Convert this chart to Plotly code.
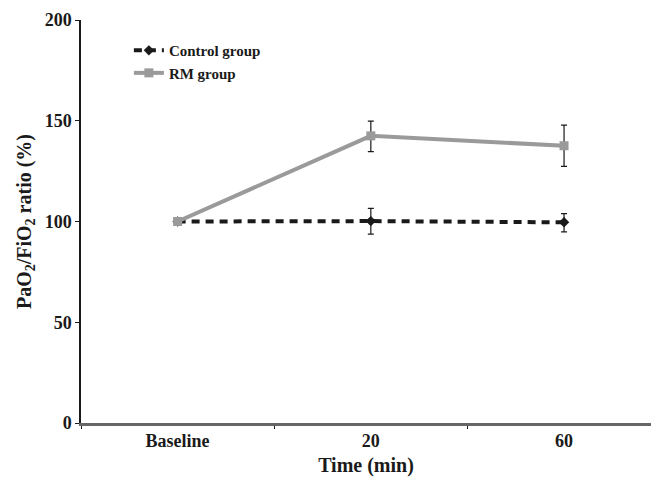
import plotly.graph_objects as go

categories = ["Baseline", "20", "60"]
control_vals = [100, 100.2, 99.6]
control_err_plus = [0, 6.3, 4.3]
control_err_minus = [0, 6.5, 4.7]
rm_vals = [100, 142.5, 137.6]
rm_err_plus = [0, 7.3, 10.2]
rm_err_minus = [0, 7.8, 10.2]
sig_labels = ["", "* †", "* †"]
y_ticks = [0, 50, 100, 150, 200]

font_fam = "Liberation Serif"

fig = go.Figure()
fig.add_trace(go.Scatter(
    x=categories, y=control_vals, mode="lines+markers", name="Control group",
    line=dict(color="#1a1a1a", width=4, dash="8px,6px"),
    marker=dict(symbol="diamond", size=8, color="#1a1a1a"),
    error_y=dict(type="data", array=control_err_plus, arrayminus=control_err_minus,
                 color="#1a1a1a", thickness=1.2, width=3),
))
fig.add_trace(go.Scatter(
    x=categories, y=rm_vals, mode="lines+markers", name="RM group",
    line=dict(color="#9a9a9a", width=4),
    marker=dict(symbol="square", size=9, color="#9a9a9a"),
    error_y=dict(type="data", array=rm_err_plus, arrayminus=rm_err_minus,
                 color="#1a1a1a", thickness=1.2, width=3),
))

for c, v, ep, s in zip(categories, rm_vals, rm_err_plus, sig_labels):
    if s:
        fig.add_annotation(x=c, y=v + ep, text=s, showarrow=False,
                           xanchor="left", yanchor="middle", xshift=5, yshift=-2,
                           font=dict(family=font_fam, size=13, color="#1a1a1a"))

fig.update_layout(
    width=651, height=478,
    margin=dict(l=81, r=0, t=20, b=55),
    paper_bgcolor="white", plot_bgcolor="white",
    font=dict(family=font_fam, color="#1a1a1a"),
    showlegend=True,
    legend=dict(x=0.084, y=0.965, xanchor="left", yanchor="top",
                bgcolor="rgba(0,0,0,0)", tracegroupgap=0,
                font=dict(family=font_fam, size=15, color="#1a1a1a", weight="bold"),
                itemwidth=30),
    xaxis=dict(
        type="category", range=[-0.5, 2.45],
        showline=True, linecolor="#666666", linewidth=2.5,
        ticks="outside", tickson="boundaries", ticklen=3, tickcolor="#1a1a1a", tickwidth=1,
        showgrid=False, zeroline=False,
        tickfont=dict(family=font_fam, size=18, color="#1a1a1a", weight="bold"),
        title=dict(text="Time (min)", standoff=8,
                   font=dict(family=font_fam, size=20, color="#1a1a1a", weight="bold")),
    ),
    yaxis=dict(
        range=[0, 200], tickvals=y_ticks,
        showline=True, linecolor="#1a1a1a", linewidth=1.5,
        ticks="outside", ticklen=4, tickcolor="#1a1a1a", tickwidth=1,
        showgrid=False, zeroline=False,
        tickfont=dict(family=font_fam, size=18, color="#1a1a1a", weight="bold"),
        title=dict(text="PaO<sub>2</sub>/FiO<sub>2</sub> ratio (%)", standoff=8,
                   font=dict(family=font_fam, size=20, color="#1a1a1a", weight="bold")),
    ),
)

fig.write_html("out.html")
